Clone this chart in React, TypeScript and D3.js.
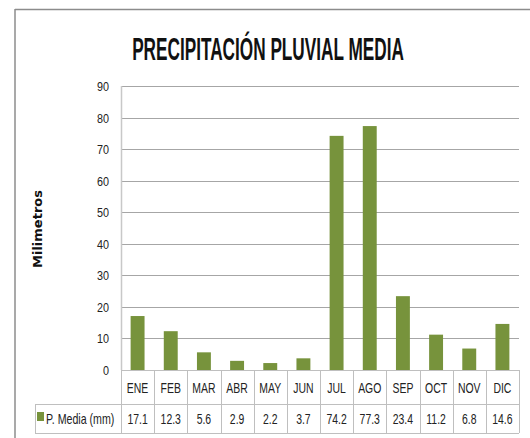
import React from "react";
import * as d3 from "d3";

const months = ["ENE", "FEB", "MAR", "ABR", "MAY", "JUN", "JUL", "AGO", "SEP", "OCT", "NOV", "DIC"];
const values = [17.1, 12.3, 5.6, 2.9, 2.2, 3.7, 74.2, 77.3, 23.4, 11.2, 6.8, 14.6];
const yTicks = [0, 10, 20, 30, 40, 50, 60, 70, 80, 90];
const seriesName = "P. Media (mm)";
const title = "PRECIPITACIÓN PLUVIAL MEDIA";
const yTitle = "Milimetros";

const W = 530, H = 438;
const plotLeft = 121, plotRight = 519, plotTop = 86, plotBottom = 370;
const row1Bottom = 404, row2Bottom = 433, legendLeft = 35;
const barColor = "#77933C";
const sans = "'Liberation Sans', Arial, sans-serif";

function NText(props: { x: number; y: number; anchor?: string; sx: number; size: number; weight?: string; fill?: string; children: React.ReactNode }) {
  const { x, y, anchor = "start", sx, size, weight = "normal", fill = "#222", children } = props;
  return (
    <text transform={`translate(${x},${y}) scale(${sx},1)`} textAnchor={anchor} fontFamily={sans}
      fontSize={size} fontWeight={weight} fill={fill}>{children}</text>
  );
}

export default function App() {
  const x = d3.scaleBand<string>().domain(months).range([plotLeft, plotRight]).paddingInner(0).paddingOuter(0);
  const y = d3.scaleLinear().domain([0, 90]).range([plotBottom, plotTop]);
  const bw = x.bandwidth();
  const barW = bw * 0.42;

  return (
    <svg width={W} height={H} style={{ position: "absolute", left: 0, top: 0, background: "#fff" }}>
      {/* outer frame */}
      <line x1={15} y1={9.5} x2={W} y2={9.5} stroke="#8c8c8c" strokeWidth={1.5} />
      <line x1={15} y1={9} x2={15} y2={H} stroke="#8c8c8c" strokeWidth={1.5} />

      {/* title */}
      <NText x={268} y={60} anchor="middle" sx={0.555} size={31} weight="bold" fill="#111">{title}</NText>

      {/* y title */}
      <text transform={`translate(42,229) rotate(-90)`} textAnchor="middle" fontFamily="'DejaVu Sans', sans-serif"
        fontWeight="bold" fontSize={13} fill="#111">{yTitle}</text>

      {/* gridlines */}
      {yTicks.filter(t => t > 0).map(t => (
        <line key={t} x1={plotLeft} x2={plotRight} y1={Math.round(y(t)) + 0.5} y2={Math.round(y(t)) + 0.5}
          stroke="#a6a6a6" strokeWidth={1} />
      ))}
      {/* y axis */}
      <line x1={plotLeft + 0.5} x2={plotLeft + 0.5} y1={plotTop} y2={plotBottom} stroke="#c8c8c8" strokeWidth={1.5} />
      {yTicks.map(t => (
        <NText key={t} x={109} y={y(t) + 5} anchor="end" sx={0.8} size={13.5}>{t}</NText>
      ))}

      {/* bars */}
      {values.map((v, i) => (
        <rect key={months[i]} x={(x(months[i]) as number) + (bw - barW) / 2} y={y(v)} width={barW}
          height={y(0) - y(v)} fill={barColor} />
      ))}

      {/* data table */}
      <g stroke="#bfbfbf" strokeWidth={1} fill="none">
        <line x1={plotLeft} x2={plotRight} y1={plotBottom + 0.5} y2={plotBottom + 0.5} />
        <line x1={legendLeft} x2={plotRight} y1={row1Bottom + 0.5} y2={row1Bottom + 0.5} />
        <line x1={legendLeft} x2={plotRight} y1={row2Bottom + 0.5} y2={row2Bottom + 0.5} />
        <line x1={legendLeft + 0.5} x2={legendLeft + 0.5} y1={row1Bottom} y2={row2Bottom} />
        {months.map(m => (
          <line key={m} x1={Math.round(x(m) as number) + 0.5} x2={Math.round(x(m) as number) + 0.5}
            y1={plotBottom} y2={row2Bottom} />
        ))}
        <line x1={plotRight + 0.5} x2={plotRight + 0.5} y1={plotBottom} y2={row2Bottom} />
      </g>
      {months.map(m => (
        <NText key={m} x={(x(m) as number) + bw / 2} y={393} anchor="middle" sx={0.72} size={14.5}>{m}</NText>
      ))}
      {values.map((v, i) => (
        <NText key={months[i]} x={(x(months[i]) as number) + bw / 2} y={424} anchor="middle" sx={0.72} size={14.5}>{v.toFixed(1)}</NText>
      ))}
      {/* legend key */}
      <rect x={37} y={412} width={7} height={9} fill={barColor} />
      <NText x={46} y={424} sx={0.76} size={14}>{seriesName}</NText>
    </svg>
  );
}
